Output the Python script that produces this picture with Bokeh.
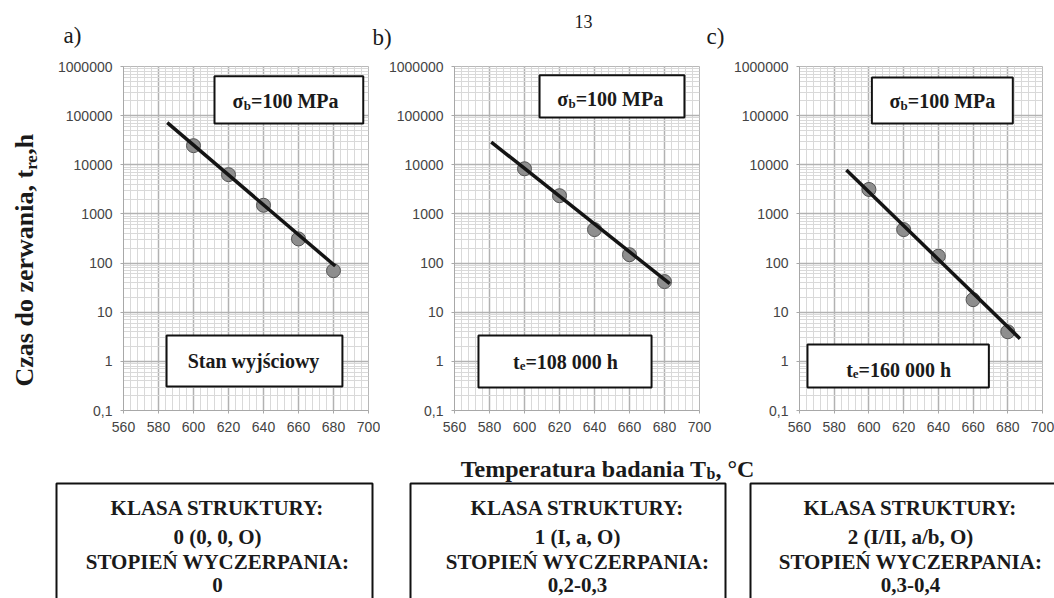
import math
from bokeh.plotting import figure
from bokeh.layouts import column, row
from bokeh.models import (Range1d, FixedTicker, CustomJSTickFormatter, Label,
                          BoxAnnotation)
from bokeh.embed import file_html
from bokeh.resources import INLINE

# ---------------- data ----------------
temps = [600, 620, 640, 660, 680]
vals_a = [24500, 6300, 1500, 310, 70]
vals_b = [8300, 2350, 480, 148, 42]
vals_c = [3150, 480, 138, 18, 4]
fit_x_a = [585, 681]
fit_y_a = [72000, 87]
fit_x_b = [581, 683]
fit_y_b = [29000, 38]
fit_x_c = [587, 687]
fit_y_c = [7800, 2.9]
x_ticks = [560, 580, 600, 620, 640, 660, 680, 700]
y_ticks = [0.1, 1, 10, 100, 1000, 10000, 100000, 1000000]
panel_letters = ["a)", "b)", "c)"]
stress_main, stress_sub, stress_rest = "σ", "b", "=100 MPa"
state_a = "Stan wyjściowy"
state_b = ("t", "e", "=108 000 h")
state_c = ("t", "e", "=160 000 h")
klasa_head = "KLASA STRUKTURY:"
klasa_vals = ["0 (0, 0, O)", "1 (I, a, O)", "2 (I/II, a/b, O)"]
stopien_head = "STOPIEŃ WYCZERPANIA:"
stopien_vals = ["0", "0,2-0,3", "0,3-0,4"]
page_number = "13"
ylabel_parts = ("Czas do zerwania, t", "re", ",h")
xlabel_parts = ("Temperatura badania T", "b", ", °C")

# ---------------- styling helpers ----------------
SERIF = "Liberation Serif"
SANS = "Liberation Sans"
INK = "#1a1a1a"

# Times-Bold advance widths (per 1000 em) for width estimation of rich text pieces
W = {' ': 250, '=': 570, ',': 250, '°': 400, 'σ': 560, 'M': 944, 'P': 611, 'T': 667,
     'C': 722, 'a': 500, 'b': 556, 'c': 444, 'd': 556, 'e': 444, 'h': 556, 'i': 278,
     'm': 833, 'n': 556, 'o': 500, 'p': 556, 'r': 444, 's': 389, 't': 333, 'u': 556,
     'w': 722, 'z': 444}


def tw(s, size):
    return sum(W.get(ch, 500) for ch in s) * size / 1000.0


def strip(width, height, x0, x1, ytop, ybot, **kw):
    p = figure(width=width, height=height, x_range=Range1d(x0, x1),
               y_range=Range1d(ybot, ytop), output_backend="svg",
               toolbar_location=None, x_axis_location=None, y_axis_location=None,
               **kw)
    p.grid.visible = False
    p.outline_line_color = None
    p.background_fill_color = "white"
    p.border_fill_color = "white"
    return p


def lbl(p, x, y, text, size, bold=True, align="left", baseline="middle",
        angle=0, font=SERIF, xo=0, yo=0, color=INK):
    p.add_layout(Label(x=x, y=y, text=text, text_font=font,
                       text_font_size=f"{size}px",
                       text_font_style="bold" if bold else "normal",
                       text_align=align, text_baseline=baseline, angle=angle,
                       x_offset=xo, y_offset=yo, text_color=color))


def rich(p, cx, cy, main, sub, rest, size=20, subsize=13):
    total = tw(main, size) + tw(sub, subsize) + tw(rest, size)
    off = -total / 2.0
    base = -1
    lbl(p, cx, cy, main, size, baseline="alphabetic", xo=off, yo=base)
    off += tw(main, size)
    lbl(p, cx, cy, sub, subsize, baseline="alphabetic", xo=off, yo=base - 4)
    off += tw(sub, subsize)
    lbl(p, cx, cy, rest, size, baseline="alphabetic", xo=off, yo=base)


def box(p, l, r, b, t):
    p.add_layout(BoxAnnotation(left=l, right=r, bottom=b, top=t,
                               fill_color="white", fill_alpha=1.0,
                               line_color="#111111", line_alpha=1.0, line_width=2))


TOPB, BOTB, ROWH = 16, 35, 395


def panel(width, left, right):
    p = figure(width=width, height=ROWH, x_range=Range1d(560, 700),
               y_range=Range1d(0.1, 1e6), y_axis_type="log",
               output_backend="svg", toolbar_location=None,
               min_border_left=left, min_border_right=right,
               min_border_top=TOPB, min_border_bottom=BOTB)
    p.background_fill_color = "white"
    p.border_fill_color = "white"
    p.outline_line_color = "#b8b8b8"
    xt = FixedTicker(ticks=x_ticks, minor_ticks=list(range(560, 701, 4)))
    yt = FixedTicker(ticks=y_ticks,
                     minor_ticks=[m * 10.0 ** e for e in range(-1, 6) for m in range(2, 10)])
    p.xaxis.ticker = xt
    p.yaxis.ticker = yt
    p.xgrid.ticker = xt
    p.ygrid.ticker = yt
    p.yaxis.formatter = CustomJSTickFormatter(
        code="return tick < 0.5 ? '0,1' : Math.round(tick).toString();")
    for ax in (p.xaxis[0], p.yaxis[0]):
        ax.major_label_text_font = SANS
        ax.major_label_text_font_size = "14px"
        ax.major_label_text_color = "#444444"
        ax.axis_line_color = "#a8a8a8"
        ax.major_tick_line_color = "#a8a8a8"
        ax.major_tick_out = 3
        ax.major_tick_in = 0
        ax.minor_tick_out = 0
        ax.minor_tick_in = 0
        ax.major_label_standoff = 8
    for g in (p.xgrid[0], p.ygrid[0]):
        g.grid_line_color = "#b2b2b2"
        g.grid_line_width = 1.5
        g.minor_grid_line_color = "#d9d9d9"
        g.minor_grid_line_width = 1
    return p


def data(p, vals, fx, fy):
    p.scatter(temps, vals, size=14, fill_color="#8e8e8e", line_color="#555555",
              line_width=1)
    p.line(fx, fy, line_color="#141414", line_width=3.5)


# ---------------- panels ----------------
fa = panel(335, 78, 12)
data(fa, vals_a, fit_x_a, fit_y_a)
box(fa, 612, 697, 10 ** 4.84, 10 ** 5.80)
rich(fa, 652.6, 10 ** 5.31, stress_main, stress_sub, stress_rest)
box(fa, 584.6, 685.1, 10 ** -0.512, 10 ** 0.526)
lbl(fa, 634.3, 10 ** 0.017, state_a, 20, align="center")

fb = panel(350, 74, 31)
data(fb, vals_b, fit_x_b, fit_y_b)
box(fb, 608.6, 691.4, 10 ** 4.96, 10 ** 5.82)
rich(fb, 649.0, 10 ** 5.35, stress_main, stress_sub, stress_rest)
box(fb, 573.7, 672.6, 10 ** -0.53, 10 ** 0.526)
rich(fb, 623.4, 10 ** 0.017, *state_b)

fc = panel(324, 67, 12)
data(fc, vals_c, fit_x_c, fit_y_c)
box(fc, 601.7, 682.9, 10 ** 4.84, 10 ** 5.776)
rich(fc, 642.3, 10 ** 5.31, stress_main, stress_sub, stress_rest)
box(fc, 564.6, 669.1, 10 ** -0.532, 10 ** 0.343)
rich(fc, 617.1, 10 ** -0.146, *state_c)

# ---------------- y-title strip (its frame is aligned with the panels' frames) ----
ys = strip(45, ROWH, 0, 45, 66, 410, min_border_left=0, min_border_right=0,
           min_border_top=TOPB, min_border_bottom=BOTB)
yl_main, yl_sub, yl_rest = ylabel_parts
ang = math.pi / 2
yb = 386
lbl(ys, 24, yb, yl_main, 26, baseline="middle", angle=ang)
lbl(ys, 31, yb - tw(yl_main, 26), yl_sub, 17, baseline="middle", angle=ang)
lbl(ys, 24, yb - tw(yl_main, 26) - tw(yl_sub, 17), yl_rest, 26, baseline="middle",
    angle=ang)

# ---------------- top strip (panel letters, page number) ----------------
top = strip(1054, 50, 0, 1054, 0, 50, min_border=0, min_border_left=0,
            min_border_right=0, min_border_top=0, min_border_bottom=0)
for txt, x, y in zip(panel_letters, [63, 372, 706], [35, 37, 36]):
    lbl(top, x, y, txt, 23, bold=False)
lbl(top, 583, 21, page_number, 18, bold=False, align="center")

# ---------------- bottom strip (x label, class boxes) ----------------
bot = strip(1054, 153, 0, 1054, 445, 598, min_border=0, min_border_left=0,
            min_border_right=0, min_border_top=0, min_border_bottom=0)
xl_main, xl_sub, xl_rest = xlabel_parts
lbl(bot, 706, 468, xl_main, 24, align="right", baseline="alphabetic")
lbl(bot, 706, 473, xl_sub, 16, align="left", baseline="alphabetic")
lbl(bot, 706 + tw(xl_sub, 16), 468, xl_rest, 24, align="left", baseline="alphabetic")

for (l, r), cx, kv, sv in zip([(56, 372), (410, 725), (750, 1070)], [217, 577, 910],
                              klasa_vals, stopien_vals):
    box(bot, l, r, 640, 483)
    for txt, y in zip([klasa_head, kv, stopien_head, sv], [507, 536, 561, 584]):
        lbl(bot, cx, y, txt, 21, align="center")

layout = column(top, row(ys, fa, fb, fc), bot)
open("out.html", "w").write(file_html(layout, INLINE))
